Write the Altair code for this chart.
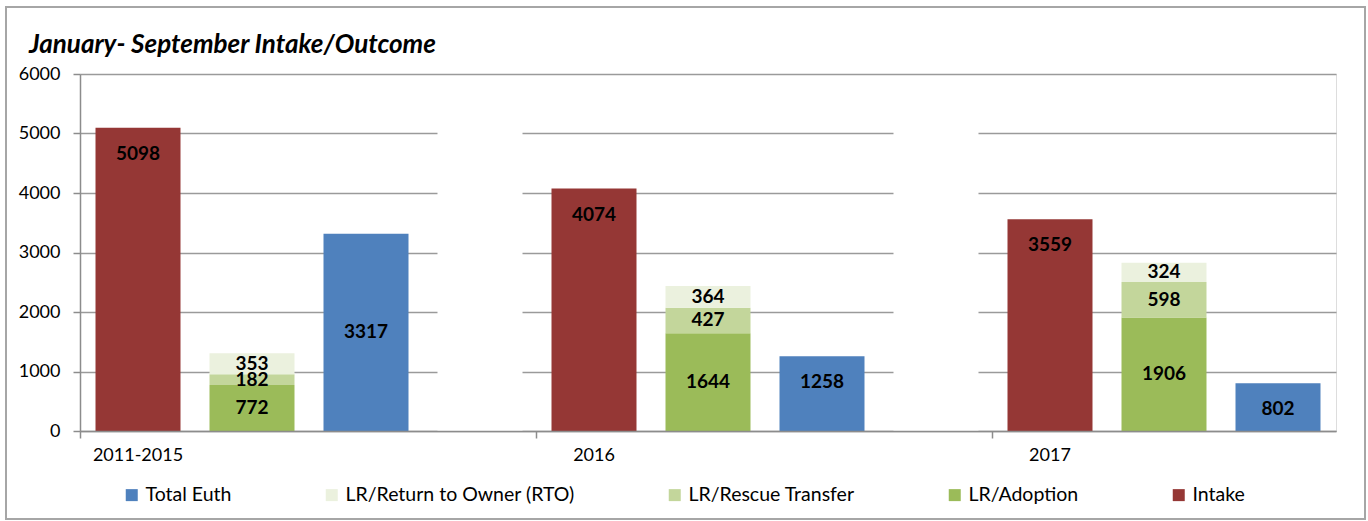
import altair as alt
import pandas as pd

# ---- data ----
groups = ["2011-2015", "2016", "2017"]
intake = [5098, 4074, 3559]
lr_adoption = [772, 1644, 1906]
lr_rescue = [182, 427, 598]
lr_rto = [353, 364, 324]
total_euth = [3317, 1258, 802]
# white spacer bars hiding the gridlines between the groups
spacer_height = [5500, 5500]

series_order = ["Total Euth", "LR/Return to Owner (RTO)", "LR/Rescue Transfer", "LR/Adoption", "Intake"]
series_colors = ["#4F81BD", "#EBF1DE", "#C3D69B", "#9BBB59", "#953735"]
title_text = "January- September Intake/Outcome"

FONT = "Lato"

# ---- build long tables ----
slots = []
rows = []
spacers = []
for i, g in enumerate(groups):
    s_int, s_lr, s_eu, s_gap = f"{g}|Intake", f"{g}|LR", f"{g}|Euth", f"{g}|gap"
    slots += [s_int, s_lr, s_eu]
    rows.append(dict(slot=s_int, series="Intake", value=intake[i], order=0))
    rows.append(dict(slot=s_lr, series="LR/Adoption", value=lr_adoption[i], order=0))
    rows.append(dict(slot=s_lr, series="LR/Rescue Transfer", value=lr_rescue[i], order=1))
    rows.append(dict(slot=s_lr, series="LR/Return to Owner (RTO)", value=lr_rto[i], order=2))
    rows.append(dict(slot=s_eu, series="Total Euth", value=total_euth[i], order=0))
    if i < len(spacer_height):
        slots.append(s_gap)
        spacers.append(dict(slot=s_gap, value=spacer_height[i]))

df = pd.DataFrame(rows)
df_gap = pd.DataFrame(spacers)

x_scale = alt.Scale(domain=slots, paddingInner=0.2544, paddingOuter=0.136)
y_scale = alt.Scale(domain=[0, 6000], nice=False)

x_enc = alt.X(
    "slot:N",
    scale=x_scale,
    sort=slots,
    axis=alt.Axis(
        title=None,
        values=[s for s in slots if s.endswith("|Intake")],
        labelExpr="split(datum.value, '|')[0]",
        bandPosition=0,
        tickOffset=-15.5,
        labelOffset=15,
        labelAngle=0,
        labelFont=FONT,
        labelFontSize=18,
        labelColor="#000000",
        labelPadding=8,
        tickSize=7,
        tickColor="#8c8c8c",
        tickWidth=1.5,
        domainColor="#8c8c8c",
        domainWidth=1.5,
        grid=False,
        zindex=1,
    ),
)

y_axis = alt.Axis(
    title=None,
    values=[0, 1000, 2000, 3000, 4000, 5000, 6000],
    format="d",
    labelFont=FONT,
    labelFontSize=18,
    labelColor="#000000",
    labelPadding=13,
    tickSize=7,
    tickColor="#8c8c8c",
    tickWidth=1.5,
    domainColor="#8c8c8c",
    domainWidth=1.5,
    grid=True,
    gridColor="#9a9a9a",
    gridWidth=1.5,
    zindex=0,
)

bars = alt.Chart(df).mark_bar(stroke=None).encode(
    x=x_enc,
    y=alt.Y("value:Q", stack="zero", scale=y_scale, axis=y_axis),
    color=alt.Color(
        "series:N",
        scale=alt.Scale(domain=series_order, range=series_colors),
        legend=alt.Legend(
            title=None,
            orient="none",
            legendX=42,
            legendY=411,
            direction="horizontal",
            columns=5,
            columnPadding=90,
            symbolType="square",
            symbolSize=144,
            symbolStrokeWidth=0,
            labelOffset=4,
            labelLimit=0,
            labelFont=FONT,
            labelFontSize=19.5,
            labelColor="#000000",
        ),
    ),
    order=alt.Order("order:Q"),
)

gaps = alt.Chart(df_gap).mark_bar(color="white", stroke=None).encode(
    x=alt.X("slot:N", scale=x_scale, sort=slots),
    y=alt.Y("value:Q", scale=y_scale),
)

stacked = alt.Chart(df).transform_stack(
    stack="value", groupby=["slot"], as_=["y0", "y1"], sort=[alt.SortField("order")]
).transform_calculate(mid="(datum.y0 + datum.y1) / 2")

label_style = dict(font=FONT, fontSize=19, fontWeight="bold", color="#000000", baseline="middle", align="center")

labels_mid = stacked.transform_filter(
    "indexof(datum.series, 'LR/') == 0 || (datum.series == 'Total Euth' && datum.value > 3000)"
).mark_text(**label_style).encode(
    x=alt.X("slot:N", scale=x_scale, sort=slots),
    y=alt.Y("mid:Q", scale=y_scale),
    text=alt.Text("value:Q", format="d"),
)

labels_end = stacked.transform_filter(
    "datum.series == 'Intake' || (datum.series == 'Total Euth' && datum.value <= 3000)"
).mark_text(dy=26, **label_style).encode(
    x=alt.X("slot:N", scale=x_scale, sort=slots),
    y=alt.Y("y1:Q", scale=y_scale),
    text=alt.Text("value:Q", format="d"),
)

single = pd.DataFrame({"k": [0]})

frame = alt.Chart(single).mark_rect(
    fill="transparent", stroke="#a6a6a6", strokeWidth=2
).encode(
    x=alt.value(-74), x2=alt.value(1285), y=alt.value(-67), y2=alt.value(445)
)

title = alt.Chart(single).mark_text(
    font=FONT, fontSize=26, fontWeight="bold", fontStyle="italic",
    color="#000000", align="left", baseline="alphabetic",
).encode(
    x=alt.value(-51), y=alt.value(-21), text=alt.value(title_text)
)

chart = alt.layer(frame, bars, gaps, labels_mid, labels_end, title).properties(
    width=1256,
    height=357,
    autosize=alt.AutoSizeParams(type="none"),
    padding={"left": 80, "top": 74, "right": 32, "bottom": 90},
).configure_view(
    stroke="#8c8c8c", strokeWidth=1.5
).configure(background="white")

chart.save("out.html", embed_options={"renderer": "svg", "actions": False})
